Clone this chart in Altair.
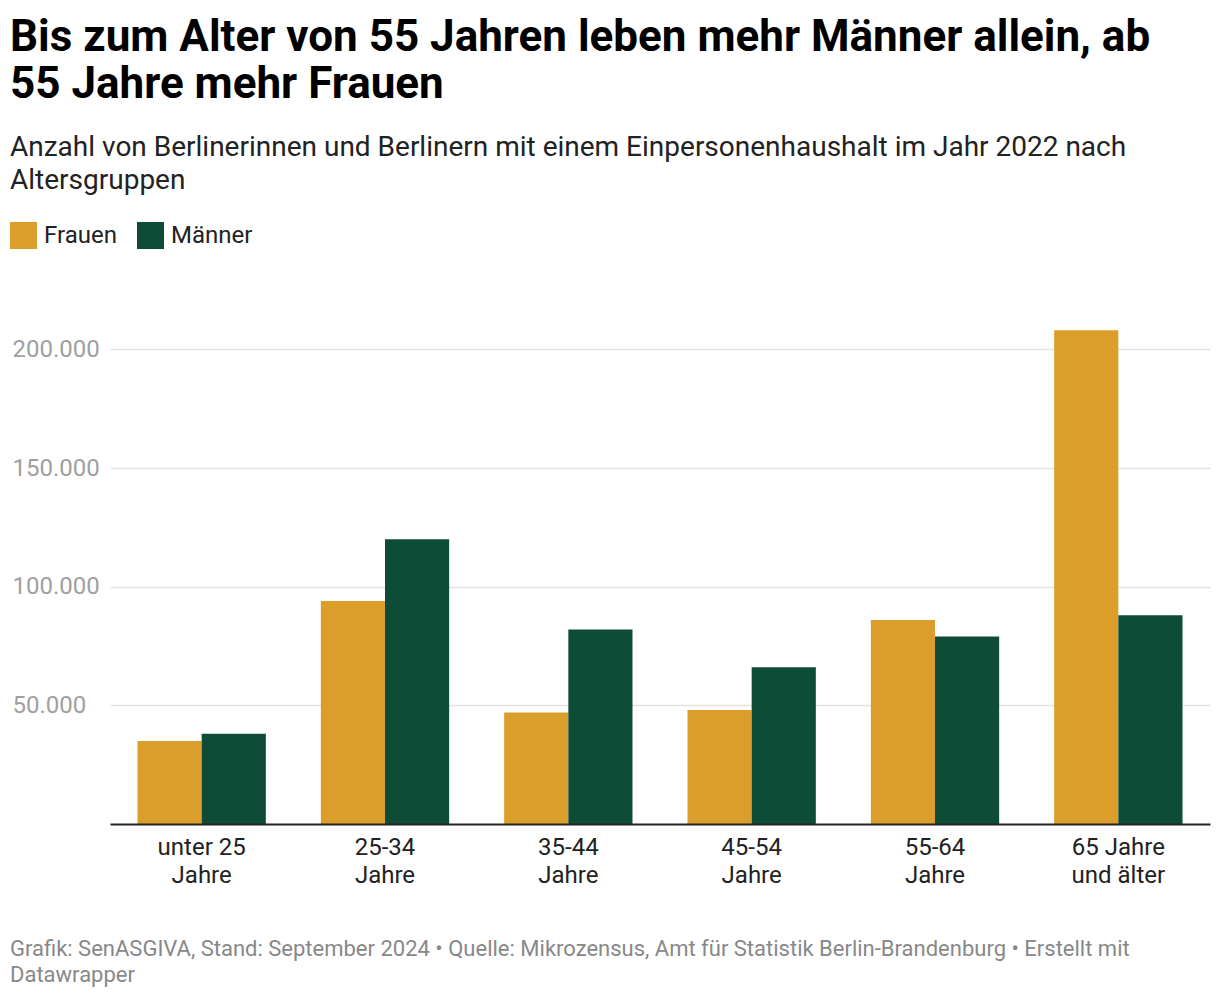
import altair as alt
import pandas as pd

categories = ["unter 25|Jahre", "25-34|Jahre", "35-44|Jahre", "45-54|Jahre", "55-64|Jahre", "65 Jahre|und älter"]
frauen = [35000, 94000, 47000, 48000, 86000, 208000]
maenner = [38000, 120000, 82000, 66000, 79000, 88000]
series = ["Frauen", "Männer"]
colors = ["#DB9E2B", "#0F4C38"]
y_ticks = [50000, 100000, 150000, 200000]
title_lines = ["Bis zum Alter von 55 Jahren leben mehr Männer allein, ab", "55 Jahre mehr Frauen"]
subtitle_lines = ["Anzahl von Berlinerinnen und Berlinern mit einem Einpersonenhaushalt im Jahr 2022 nach",
                  "Altersgruppen"]
footer_lines = ["Grafik: SenASGIVA, Stand: September 2024 • Quelle: Mikrozensus, Amt für Statistik Berlin-Brandenburg • Erstellt mit",
                "Datawrapper"]

rows = []
for i, c in enumerate(categories):
    rows.append({"Gruppe": c, "Geschlecht": series[0], "Anzahl": frauen[i]})
    rows.append({"Gruppe": c, "Geschlecht": series[1], "Anzahl": maenner[i]})
df = pd.DataFrame(rows)
footer_df = pd.DataFrame({"t": ["\n".join(footer_lines)]})

W, H = 1100, 534
FONT = "Roboto"

bars = alt.Chart(df).mark_bar().encode(
    x=alt.X("Gruppe:N", sort=categories,
            scale=alt.Scale(paddingInner=0.3, paddingOuter=0.15),
            axis=alt.Axis(title=None, labelExpr="split(datum.label, '|')", labelAngle=0,
                          labelFontSize=24, labelColor="#222222", labelLineHeight=28,
                          labelPadding=11, ticks=False, tickSize=0, domainColor="#222222",
                          domainWidth=2, labelFont=FONT, zindex=1)),
    xOffset=alt.XOffset("Geschlecht:N", sort=series,
                        scale=alt.Scale(paddingInner=0, paddingOuter=0)),
    y=alt.Y("Anzahl:Q", scale=alt.Scale(domain=[0, 225000], nice=False),
            axis=alt.Axis(title=None, values=y_ticks,
                          labelExpr="replace(format(datum.value, ','), ',', '.')",
                          ticks=False, tickSize=0, domain=False, labelAlign="left",
                          labelPadding=98, labelFontSize=24, labelColor="#a0a0a0",
                          labelFont=FONT, gridColor="#e3e3e3", gridWidth=1.5)),
    color=alt.Color("Geschlecht:N", sort=series,
                    scale=alt.Scale(domain=series, range=colors),
                    legend=alt.Legend(title=None, orient="none", legendX=-100, legendY=-68,
                                      direction="horizontal", symbolType="square",
                                      symbolSize=729, symbolStrokeWidth=0, symbolOpacity=1,
                                      labelFontSize=24, labelColor="#222222", labelFont=FONT,
                                      columnPadding=20, labelOffset=7)),
)

footer = alt.Chart(footer_df).mark_text(
    align="left", baseline="alphabetic", lineBreak="\n", fontSize=22, color="#888888",
    font=FONT, lineHeight=26
).encode(x=alt.value(-100), y=alt.value(666), text="t:N")

chart = alt.layer(bars, footer).properties(
    width=W, height=H,
    padding={"left": 2, "top": 8, "right": 2, "bottom": 2},
    title=alt.TitleParams(text=title_lines, subtitle=subtitle_lines, anchor="start",
                          frame="bounds", fontSize=44, fontWeight="bold", font=FONT,
                          color="#000000", lineHeight=47, subtitleFontSize=28,
                          subtitleFont=FONT, subtitleColor="#222222",
                          subtitleLineHeight=33, subtitlePadding=27, offset=27),
).configure_view(stroke=None)

chart.save("out.html", embed_options={"renderer": "svg", "actions": False})
